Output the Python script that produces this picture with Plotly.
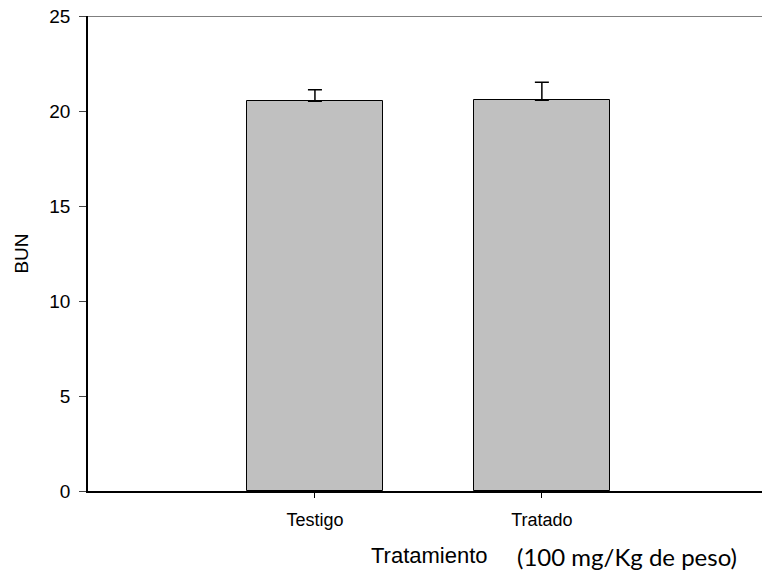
import plotly.graph_objects as go

# Blood urea nitrogen by treatment group
categories = ["Testigo", "Tratado"]
bun_mean = [20.51, 20.56]
bun_err = [0.61, 0.95]
y_ticks = [0, 5, 10, 15, 20, 25]

xpos = list(range(len(categories)))

fig = go.Figure()
fig.add_trace(go.Bar(
    x=xpos,
    y=bun_mean,
    width=0.6,
    marker=dict(color="#c0c0c0", line=dict(color="black", width=1)),
    error_y=dict(type="data", array=bun_err, arrayminus=[0] * len(bun_err),
                 symmetric=False, color="black", thickness=1.5, width=7),
    showlegend=False,
))

# top border of the frame
fig.add_shape(type="line", xref="paper", yref="y", x0=0, x1=1, y0=25, y1=25,
              line=dict(color="#555555", width=1.5))

fig.update_layout(
    width=763, height=578,
    margin=dict(l=88, r=1, t=16, b=87),
    paper_bgcolor="white", plot_bgcolor="white",
    font=dict(family="Liberation Sans, Arial, sans-serif", size=17, color="black"),
    bargap=0,
    xaxis=dict(
        range=[-1.0, 1.97],
        tickvals=xpos, ticktext=categories,
        showline=True, linecolor="black", linewidth=2,
        ticks="outside", ticklen=5, tickwidth=1, tickcolor="black",
        showgrid=False, zeroline=False,
        ticklabelstandoff=6,
        tickfont=dict(size=18),
    ),
    yaxis=dict(
        range=[0, 25],
        tickvals=y_ticks,
        showline=True, linecolor="black", linewidth=1.5,
        ticks="outside", ticklen=7, tickwidth=1, tickcolor="#444444",
        showgrid=False, zeroline=False,
        ticklabelstandoff=5,
        tickfont=dict(size=19),
        title=dict(text="BUN", font=dict(size=19), standoff=16),
    ),
)

fig.add_annotation(text="Tratamiento", xref="paper", yref="paper",
                   x=(429 - 88) / (762 - 88), y=-(555 - 491) / (578 - 16 - 87),
                   showarrow=False, xanchor="center", yanchor="middle",
                   font=dict(family="Liberation Sans, Arial, sans-serif", size=22))
fig.add_annotation(text="(100 mg/Kg de peso)", xref="paper", yref="paper",
                   x=(627 - 88) / (762 - 88), y=-(556 - 491) / (578 - 16 - 87),
                   showarrow=False, xanchor="center", yanchor="middle",
                   font=dict(family="Lato, Open Sans, sans-serif", size=24))

fig.write_html("out.html")
